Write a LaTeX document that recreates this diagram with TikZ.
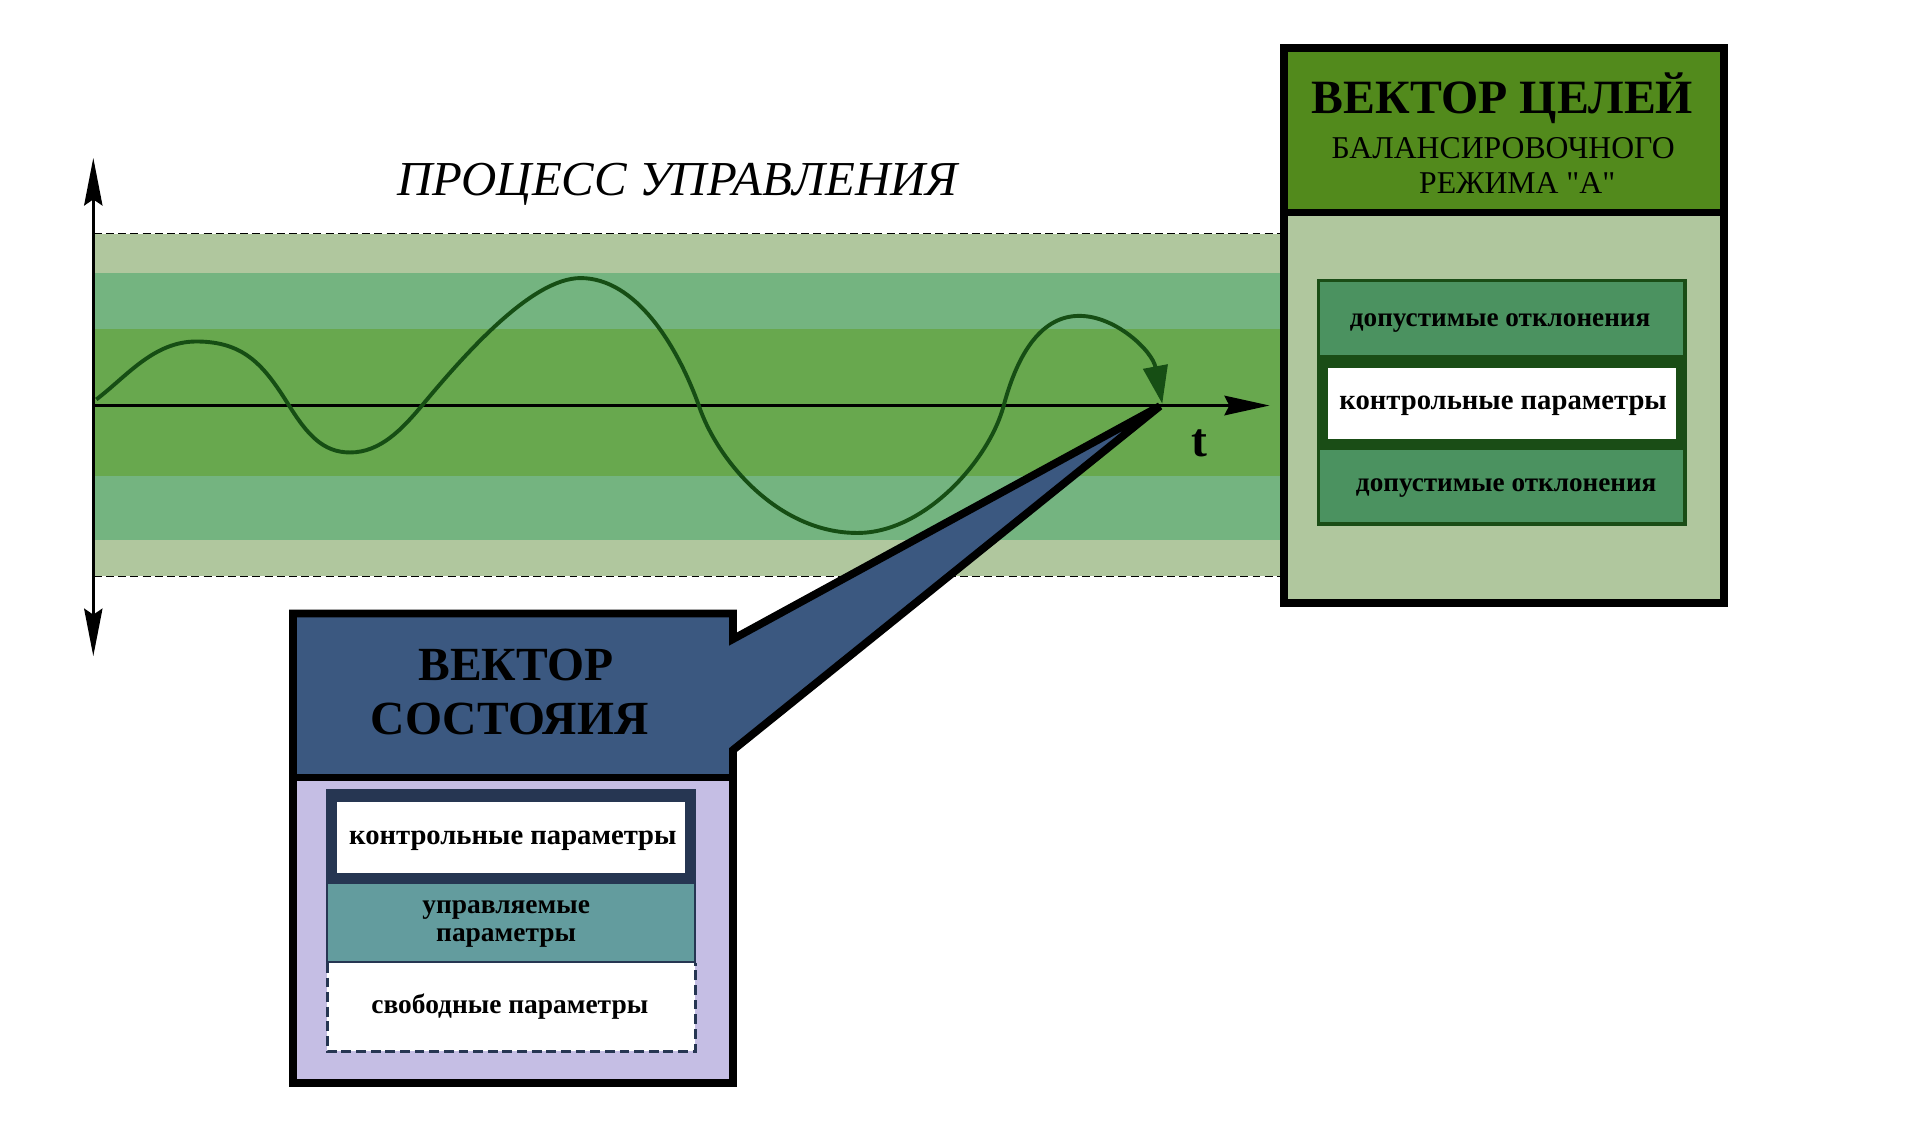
\documentclass[tikz,border=0pt]{standalone}
\usepackage{fontspec}
\setmainfont{Liberation Serif}[Ligatures=TeXOff]
\usetikzlibrary{arrows.meta}
\definecolor{bandlight}{HTML}{B0C79E}
\definecolor{bandmid}{HTML}{74B480}
\definecolor{bandin}{HTML}{68A84E}
\definecolor{wavecol}{HTML}{164E14}
\definecolor{hdrgreen}{HTML}{528A1C}
\definecolor{devgreen}{HTML}{4B9260}
\definecolor{darkgreen}{HTML}{1A4D16}
\definecolor{hdrblue}{HTML}{3B5880}
\definecolor{lav}{HTML}{C5BEE4}
\definecolor{navyc}{HTML}{263652}
\definecolor{tealc}{HTML}{639C9E}
\newcommand\fsz[1]{\fontsize{#1}{#1}\selectfont}
\begin{document}
\begin{tikzpicture}[x=1pt,y=-1pt,
  lbl/.style={inner sep=0pt, anchor=base},
  bandline/.style={line width=1pt, dash pattern=on 6.5pt off 3.5pt},
  axisline/.style={line width=2.6pt},
  thickbox/.style={line width=6.4pt},
  bigtitle/.style={lbl, font=\bfseries\fsz{39}},
  rowtext/.style={lbl, font=\bfseries\fsz{22.3}}]
\useasboundingbox (0,0) rectangle (1562,926);
\fill[white] (0,0) rectangle (1562,926);

% bands
\fill[bandlight] (77,191.5) rectangle (1055,472.6);
\fill[bandmid] (77,223.6) rectangle (1055,442.6);
\fill[bandin] (77,269.6) rectangle (1055,390);
\coordinate (dtl) at (77,191.5);
\coordinate (dtr) at (1052,191.5);
\coordinate (dbl) at (77,472.6);
\coordinate (dbr) at (1052,472.6);
\draw[bandline] (dtl) -- (dtr);
\draw[bandline] (dbl) -- (dbr);

% axes
\coordinate (vtop) at (76.5,129.5);
\coordinate (vbot) at (76.5,538);
\coordinate (h0) at (77,332.5);
\coordinate (hend) at (1041,332.5);
\draw[line width=2.3pt, {Stealth[length=39pt,width=15pt,inset=5pt]}-{Stealth[length=39pt,width=15pt,inset=5pt]}] (vtop) -- (vbot);
\draw[axisline, -{Stealth[length=37pt,width=16pt,inset=4pt]}] (h0) -- (hend);

\node[lbl, font=\itshape\fsz{40}] (title) at (555.5,160) {ПРОЦЕСС УПРАВЛЕНИЯ};
\node[lbl, font=\bfseries\fsz{39}] (tlabel) at (983.5,374.6) {t};

% wave
\coordinate (w0) at (79,327.5);
\coordinate (wend) at (953,331);
\draw[wavecol, line width=3.2pt, -{Triangle[length=31pt,width=20pt]}]
  (w0) .. controls (104,308.5) and (126,280) .. (161,280)
  .. controls (201,280) and (217,300.5) .. (237,332.5)
  .. controls (252,356.5) and (265,371) .. (287,371)
  .. controls (312,371) and (330,351.5) .. (346,332.5)
  .. controls (381,290.5) and (436,228) .. (476,228)
  .. controls (521,228) and (555,282.5) .. (573,332.5)
  .. controls (588,377.5) and (638,437) .. (703,437)
  .. controls (758,437) and (811,377.5) .. (823,332.5)
  .. controls (835,287.5) and (855,259) .. (885,259)
  .. controls (915,259) and (945,288) .. (wend);

% right box
\fill[hdrgreen] (1052.8,39.3) rectangle (1413.3,174);
\fill[bandlight] (1052.8,174) rectangle (1413.3,494.1);
\draw[thickbox] (1052.8,39.3) rectangle (1413.3,494.1);
\draw[line width=6pt] (1052.8,174) -- (1413.3,174);
\fill[darkgreen] (1080,228.8) rectangle (1383,430.9);
\fill[devgreen] (1082.7,231.5) rectangle (1380.3,291);
\fill[devgreen] (1082.7,369) rectangle (1380.3,428.2);
\fill[white] (1089.2,301.5) rectangle (1374.2,359.7);
\node[bigtitle, font=\bfseries\fsz{39.2}] (goaltitle) at (1232,92.7) {ВЕКТОР ЦЕЛЕЙ};
\node[lbl, font=\fsz{26}] (goalsub1) at (1232.5,129.8) {БАЛАНСИРОВОЧНОГО};
\node[lbl, font=\fsz{26}] (goalsub2) at (1244,158.6) {РЕЖИМА "А"};
\node[rowtext] (dev1) at (1230,267.5) {допустимые отклонения};
\node[rowtext, font=\bfseries\fsz{23.5}] (ctrl1) at (1232.5,335.5) {контрольные параметры};
\node[rowtext] (dev2) at (1235,402.7) {допустимые отклонения};

% left callout box
\coordinate (tip) at (951,333);
\fill[hdrblue] (240.2,503) -- (601,503) -- (601,524) -- (tip) -- (601,615) -- (601,637.5) -- (240.2,637.5) -- cycle;
\fill[lav] (240.2,637.5) rectangle (601,888);
\draw[thickbox, line join=miter] (601,524) -- (601,503) -- (240.2,503) -- (240.2,888) -- (601,888) -- (601,615) -- (tip) -- cycle;
\draw[line width=6pt] (240.2,637.5) -- (601,637.5);
\fill[navyc] (267.5,647) rectangle (570.7,724);
\fill[white] (276,657.5) rectangle (561.7,715.7);
\filldraw[fill=tealc, draw=navyc, line width=1.5pt] (268.3,724) rectangle (569.9,788.7);
\fill[white] (268.3,789.5) rectangle (569.9,861.8);
\draw[navyc, line width=2.5pt, dash pattern=on 8pt off 4pt] (268.3,789.5) -- (268.3,861.8) -- (569.9,861.8) -- (569.9,789.5);
\node[bigtitle] (stt1) at (423,557.6) {ВЕКТОР};
\node[bigtitle] (stt2) at (418,602.6) {СОСТОЯИЯ};
\node[rowtext, font=\bfseries\fsz{23.5}] (ctrl2) at (420.5,692.8) {контрольные параметры};
\node[rowtext, font=\bfseries\fsz{22.5}] (man1) at (415,748.8) {управляемые};
\node[rowtext, font=\bfseries\fsz{22.5}] (man2) at (415,772) {параметры};
\node[rowtext, font=\bfseries\fsz{22.5}] (free) at (418,830.8) {свободные параметры};
\end{tikzpicture}
\end{document}
